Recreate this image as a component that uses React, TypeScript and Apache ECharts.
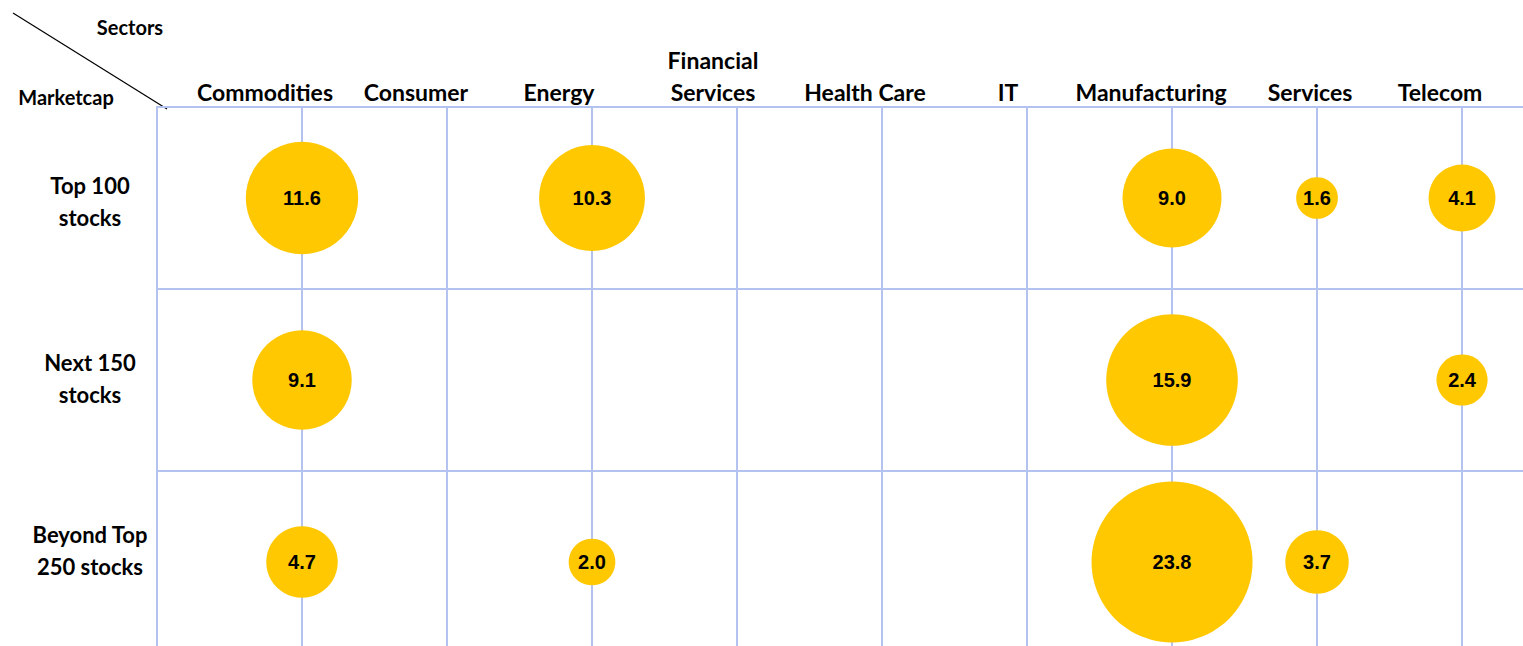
import React, { useEffect, useRef } from 'react';
import * as echarts from 'echarts';

const sectors = ['Commodities', 'Consumer', 'Energy', 'Financial\nServices', 'Health Care', 'IT', 'Manufacturing', 'Services', 'Telecom'];
const marketcaps = ['Top 100\nstocks', 'Next 150\nstocks', 'Beyond Top\n250 stocks'];
const top100 = [11.6, null, 10.3, null, null, null, 9.0, 1.6, 4.1];
const next150 = [9.1, null, null, null, null, null, 15.9, null, 2.4];
const beyond250 = [4.7, null, 2.0, null, null, null, 23.8, 3.7, null];
const rows = [top100, next150, beyond250];

const FONT = 'Lato';
const GRID_COLOR = '#B4C2F0';
const BUBBLE = '#FFC800';

export default function App() {
  const ref = useRef<HTMLDivElement>(null);
  useEffect(() => {
    if (!ref.current) return;
    const chart = echarts.init(ref.current, null, { renderer: 'svg' });
    const labelShift = [-37, -31, -33, -24, -17, -19, -21, -7, -22];
    const rowShift = [3, -1.5, -11.5];
    const rich: any = {};
    sectors.forEach((_, i) => {
      rich['s' + i] = {
        fontFamily: FONT,
        fontWeight: 'bold',
        fontSize: 23,
        lineHeight: 32,
        color: '#000',
        padding: [0, -2 * labelShift[i], 0, 0],
      };
    });
    const rowRich: any = {
      r: { fontFamily: FONT, fontWeight: 'bold', fontSize: 22, lineHeight: 32, color: '#000' },
    };
    rowShift.forEach((s, i) => {
      rowRich['sp' + i] = { fontSize: 1, lineHeight: Math.abs(2 * s) };
    });
    const data: any[] = [];
    rows.forEach((row, r) => {
      row.forEach((v, i) => {
        if (v != null) data.push([i + 1, r, v]);
      });
    });
    chart.setOption({
      animation: false,
      grid: { left: 157, top: 107, width: 1380, height: 546, containLabel: false, outerBoundsMode: 'none' },
      xAxis: {
        type: 'value',
        position: 'top',
        min: 0,
        max: 9.517,
        interval: 1,
        axisLine: { show: true, lineStyle: { color: GRID_COLOR, width: 2 } },
        axisTick: { show: false },
        splitLine: { show: true, lineStyle: { color: GRID_COLOR, width: 2 } },
        axisLabel: {
          margin: -1,
          formatter: (val: number) => {
            const i = Math.round(val) - 1;
            if (Math.abs(val - (i + 1)) > 1e-6 || i < 0 || i >= sectors.length) return '';
            return sectors[i].split('\n').map((l) => `{s${i}|${l}}`).join('\n');
          },
          rich,
        },
      },
      yAxis: {
        type: 'category',
        inverse: true,
        data: marketcaps,
        boundaryGap: true,
        axisLine: { show: true, lineStyle: { color: GRID_COLOR, width: 2 } },
        axisTick: { show: false },
        splitLine: { show: true, lineStyle: { color: GRID_COLOR, width: 2 } },
        axisLabel: {
          align: 'center',
          margin: 67,
          formatter: (val: string, idx: number) => {
            const lines = val.split('\n').map((l) => `{r|${l}}`);
            const s = rowShift[idx] || 0;
            if (s > 0) lines.unshift(`{sp${idx}| }`);
            else if (s < 0) lines.push(`{sp${idx}| }`);
            return lines.join('\n');
          },
          rich: rowRich,
        },
      },
      series: [
        {
          type: 'scatter',
          data,
          symbol: 'circle',
          symbolSize: (d: number[]) => 33 * Math.sqrt(d[2]),
          itemStyle: { color: BUBBLE, opacity: 1 },
          label: {
            show: true,
            position: 'inside',
            formatter: (p: any) => p.value[2].toFixed(1),
            fontFamily: 'Liberation Sans',
            fontWeight: 'bold',
            fontSize: 20,
            color: '#000',
          },
          emphasis: { disabled: true },
        },
      ],
      graphic: [
        { type: 'line', shape: { x1: 13, y1: 13, x2: 167, y2: 109 }, style: { stroke: '#000', lineWidth: 1.2 } },
        {
          type: 'text', x: 130, y: 27,
          style: { text: 'Sectors', fontFamily: FONT, fontWeight: 'bold', fontSize: 20, fill: '#000', align: 'center', verticalAlign: 'middle' },
        },
        {
          type: 'text', x: 66, y: 97,
          style: { text: 'Marketcap', fontFamily: FONT, fontWeight: 'bold', fontSize: 20, fill: '#000', align: 'center', verticalAlign: 'middle' },
        },
      ],
    });
    return () => chart.dispose();
  }, []);
  return <div ref={ref} style={{ position: 'absolute', left: 0, top: 0, width: 1523, height: 646 }} />;
}
